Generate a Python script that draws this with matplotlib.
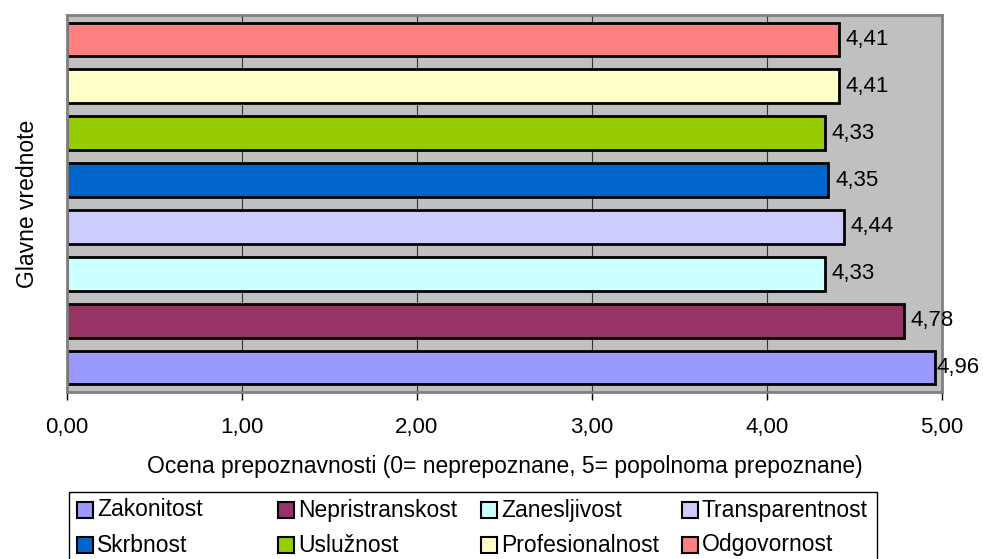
import matplotlib.pyplot as plt
from matplotlib.patches import Rectangle

# data (bottom to top)
categories = ['Zakonitost', 'Nepristranskost', 'Zanesljivost', 'Transparentnost',
              'Skrbnost', 'Uslužnost', 'Profesionalnost', 'Odgovornost']
values = [4.96, 4.78, 4.33, 4.44, 4.35, 4.33, 4.41, 4.41]
colors = ['#9999FF', '#993366', '#CCFFFF', '#CCCCFF',
          '#0066CC', '#99CC00', '#FFFFCC', '#FF8080']
x_ticks = [0, 1, 2, 3, 4, 5]

plt.rcParams['font.family'] = ['Liberation Sans', 'DejaVu Sans']

W, H = 983, 559
fig = plt.figure(figsize=(W / 100, H / 100), dpi=100)
ax = fig.add_axes([67 / W, 1 - 392 / H, (942 - 67) / W, (392 - 15) / H])
ax.set_facecolor('#C0C0C0')

ax.grid(axis='x', color='#333333', linewidth=0.8)
ax.set_axisbelow(True)

pos = list(range(len(categories)))
bars = ax.barh(pos, values, height=0.72, color=colors,
               edgecolor='black', linewidth=2)

# value labels; the longest bar's label is squeezed against the bar like in excel
for p, v in zip(pos, values):
    pad = 1 if v > 4.9 else 5
    ax.annotate(f'{v:.2f}'.replace('.', ','), xy=(v, p), xytext=(pad, 0),
                textcoords='offset points', va='center', ha='left', fontsize=16)

ax.set_xlim(0, 5)
ax.set_ylim(-0.52, 7.52)
ax.set_xticks(x_ticks)
ax.set_xticklabels([f'{t:.2f}'.replace('.', ',') for t in x_ticks], fontsize=16)
ax.tick_params(axis='x', length=6, width=1, color='black', pad=12)
ax.set_yticks([])

for s in ax.spines.values():
    s.set_color('#808080')
    s.set_linewidth(2)

ax.set_xlabel('Ocena prepoznavnosti (0= neprepoznane, 5= popolnoma prepoznane)',
              fontsize=16.5, labelpad=12)
ax.set_ylabel('Glavne vrednote', fontsize=16.5, labelpad=20)

# legend box: two rows of four equal-width columns
fig.add_artist(Rectangle((69 / W, 1 - 580 / H), (877 - 69) / W, (580 - 492) / H,
                         transform=fig.transFigure, facecolor='white',
                         edgecolor='black', linewidth=1))
col_x = [77, 278, 481, 682]
row_y = [510, 545]
for i, (name, c) in enumerate(zip(categories, colors)):
    x0 = col_x[i % 4]
    y0 = row_y[i // 4]
    fig.add_artist(Rectangle((x0 / W, 1 - (y0 + 8) / H), 16 / W, 16 / H,
                             transform=fig.transFigure, facecolor=c,
                             edgecolor='black', linewidth=1.5))
    fig.text((x0 + 20) / W, 1 - y0 / H, name, fontsize=16.5, va='center', ha='left')

fig.savefig('out.png', dpi=100)
